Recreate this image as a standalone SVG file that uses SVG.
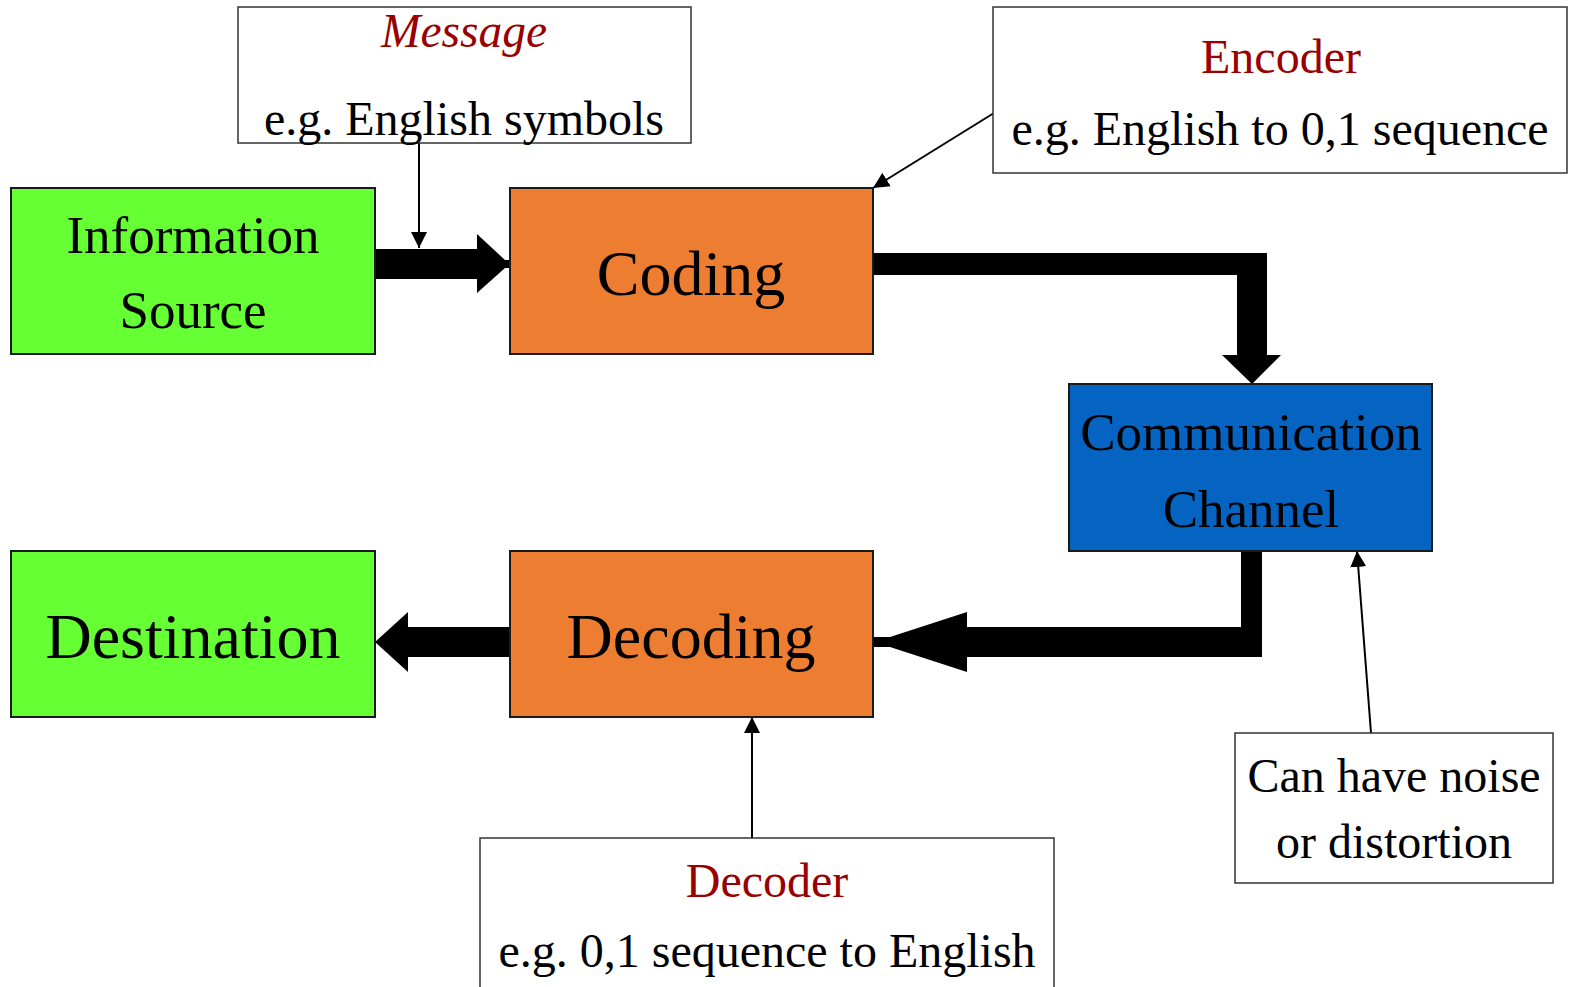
<svg xmlns="http://www.w3.org/2000/svg" width="1569" height="987" viewBox="0 0 1569 987">
  <style>
    .t { font-family: "Liberation Serif", "Times New Roman", serif; fill: #000; text-anchor: middle; }
    .red { fill: #990000; }
    .node { stroke: #1a1a1a; stroke-width: 2; }
    .note { fill: #fff; stroke: #333; stroke-width: 1.5; }
    .thin { stroke: #000; stroke-width: 2; fill: none; marker-end: url(#head); }
    .thick { fill: #000; }
  </style>
  <defs>
    <marker id="head" markerUnits="userSpaceOnUse" markerWidth="16" markerHeight="16" refX="16" refY="8" orient="auto">
      <path d="M0,0 L16,8 L0,16 z" fill="#000"/>
    </marker>
  </defs>
  <rect width="1569" height="987" fill="#fff"/>

  <!-- connectors -->
  <g id="connectors">
    <polygon class="thick" points="375,249 477,249 477,234 505,260 511,260 511,268 505,268 477,293 477,279 375,279"/>
    <polygon class="thick" points="873,253 1267,253 1267,355 1281,355 1252,384 1222,355 1237,355 1237,275 873,275"/>
    <polygon class="thick" points="1241,551 1262,551 1262,657 967,657 967,672 890,647 873,647 873,637 890,637 967,612 967,627 1241,627"/>
    <polygon class="thick" points="510,627 408,627 408,612 375,642 408,672 408,657 510,657"/>
    <line class="thin" x1="419" y1="143" x2="419" y2="248"/>
    <line class="thin" x1="994" y1="113" x2="873" y2="188"/>
    <line class="thin" x1="752" y1="838" x2="752" y2="717"/>
    <line class="thin" x1="1371" y1="733" x2="1357" y2="551"/>
  </g>

  <!-- processing blocks -->
  <g id="information-source">
    <rect class="node" x="11" y="188" width="364" height="166" fill="#66FF33"/>
    <text class="t" x="193" y="253" font-size="53">Information</text>
    <text class="t" x="193" y="328" font-size="53">Source</text>
  </g>
  <g id="coding">
    <rect class="node" x="510" y="188" width="363" height="166" fill="#ED7D31"/>
    <text class="t" x="691" y="295" font-size="64">Coding</text>
  </g>
  <g id="channel">
    <rect class="node" x="1069" y="384" width="363" height="167" fill="#0563C1"/>
    <text class="t" x="1251" y="450" font-size="53">Communication</text>
    <text class="t" x="1251" y="527" font-size="53">Channel</text>
  </g>
  <g id="destination">
    <rect class="node" x="11" y="551" width="364" height="166" fill="#66FF33"/>
    <text class="t" x="193" y="658" font-size="64">Destination</text>
  </g>
  <g id="decoding">
    <rect class="node" x="510" y="551" width="363" height="166" fill="#ED7D31"/>
    <text class="t" x="691" y="658" font-size="64">Decoding</text>
  </g>

  <!-- annotations -->
  <g id="message-note">
    <rect class="note" x="238" y="7" width="453" height="136"/>
    <text class="t red" x="464" y="47" font-size="47.5" font-style="italic">Message</text>
    <text class="t" x="464" y="135" font-size="48">e.g. English symbols</text>
  </g>
  <g id="encoder-note">
    <rect class="note" x="993" y="7" width="574" height="166"/>
    <text class="t red" x="1281" y="73" font-size="48">Encoder</text>
    <text class="t" x="1280" y="145" font-size="48">e.g. English to 0,1 sequence</text>
  </g>
  <g id="decoder-note">
    <rect class="note" x="480" y="838" width="574" height="160"/>
    <text class="t red" x="767" y="897" font-size="48">Decoder</text>
    <text class="t" x="767" y="967" font-size="48">e.g. 0,1 sequence to English</text>
  </g>
  <g id="noise-note">
    <rect class="note" x="1235" y="733" width="318" height="150"/>
    <text class="t" x="1394" y="792" font-size="48">Can have noise</text>
    <text class="t" x="1394" y="858" font-size="48">or distortion</text>
  </g>
</svg>
